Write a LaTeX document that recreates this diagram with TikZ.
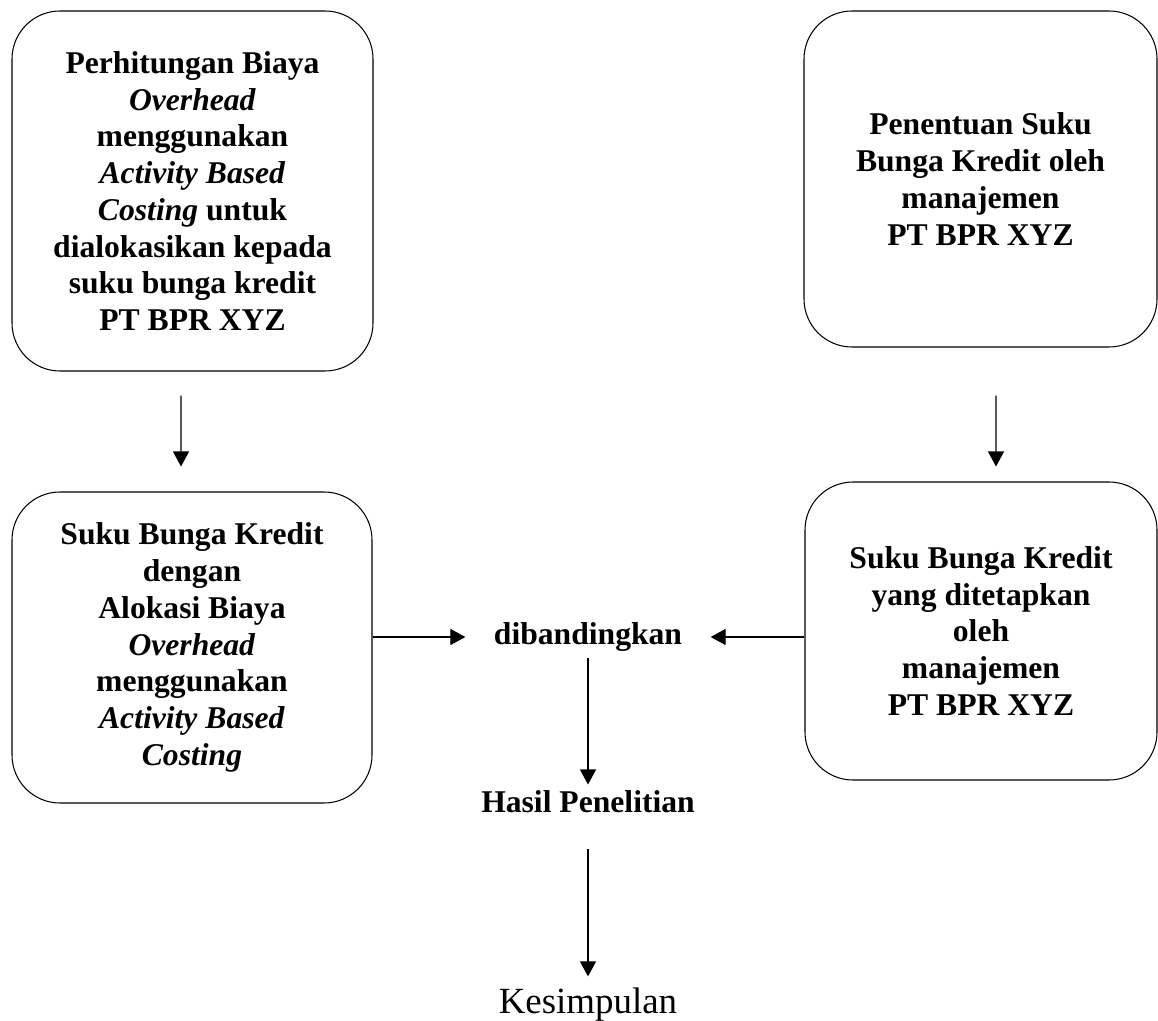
\documentclass[tikz,border=0pt]{standalone}
\usepackage{fontspec}
\setmainfont{Liberation Serif}
\usetikzlibrary{arrows.meta}

\begin{document}
\begin{tikzpicture}[line width=0.6pt, >={Triangle[length=3mm,width=3.2mm]},
  box/.style={draw, rounded corners=9.6mm, align=center, font=\fontsize{18}{20.9}\selectfont\bfseries},
  lbl/.style={font=\fontsize{18}{20.9}\selectfont\bfseries}]
\useasboundingbox (0,0) rectangle (23.16,-20.42);
\node[box, minimum width=7.22cm, minimum height=7.2cm] (abc1) at (3.85,-3.82) {Perhitungan Biaya\\ \textit{Overhead}\\ menggunakan\\ \textit{Activity Based}\\ \textit{Costing} untuk\\ dialokasikan kepada\\ suku bunga kredit\\ PT BPR XYZ};
\node[box, minimum width=7.06cm, minimum height=6.72cm] (mgt1) at (19.61,-3.58) {Penentuan Suku\\ Bunga Kredit oleh\\ manajemen\\ PT BPR XYZ};
\node[box, minimum width=7.2cm, minimum height=6.22cm] (abc2) at (3.84,-12.95) {Suku Bunga Kredit\\ dengan\\ Alokasi Biaya\\ \textit{Overhead}\\ menggunakan\\ \textit{Activity Based}\\ \textit{Costing}};
\node[box, minimum width=7.04cm, minimum height=5.96cm] (mgt2) at (19.62,-12.62) {Suku Bunga Kredit\\ yang ditetapkan\\ oleh\\ manajemen\\ PT BPR XYZ};
\node[lbl, inner xsep=5.6mm] (cmp) at (11.76,-12.74) {dibandingkan};
\node[lbl] (res) at (11.76,-16.04) {Hasil Penelitian};
\node[font=\fontsize{21}{25}\selectfont] (conc) at (11.76,-20.09) {Kesimpulan};
% Arrows:
\draw[->, shorten <=4.8mm, shorten >=5mm] ([xshift=-2.3mm]abc1.south) -- ([xshift=-2.2mm]abc2.north);
\draw[->, shorten <=9.6mm, shorten >=3mm] ([xshift=3.1mm]mgt1.south) -- ([xshift=3mm]mgt2.north);
\draw[->] (abc2.east |- cmp.west) -- (cmp.west);
\draw[->] (mgt2.west |- cmp.east) -- (cmp.east);
\draw[->] (cmp.south) -- (res.north);
\draw[->, shorten <=5.8mm, shorten >=1mm] (res.south) -- (conc.north);
\end{tikzpicture}
\end{document}
